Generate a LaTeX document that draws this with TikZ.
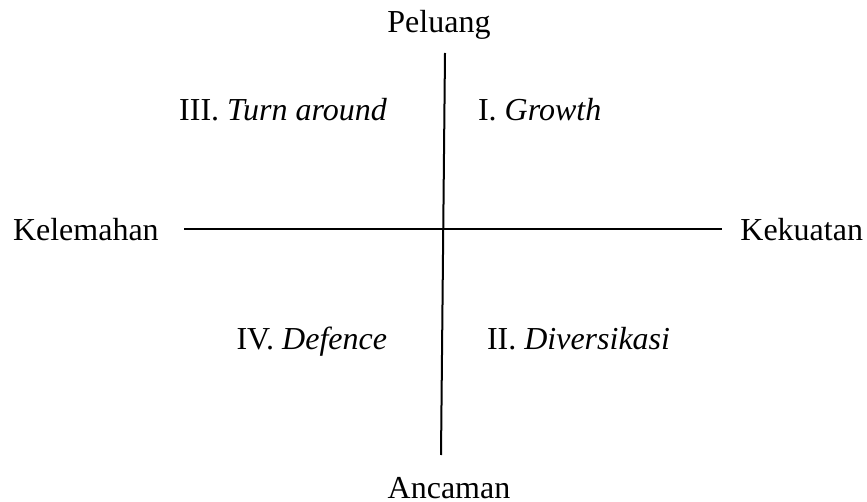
\documentclass[tikz,border=0pt]{standalone}
\usepackage{fontspec}
\setmainfont{Liberation Serif}
\begin{document}
\begin{tikzpicture}[x=0.5pt,y=-0.5pt,
  lbl/.style={inner sep=0pt,outer sep=0pt,font=\fontsize{16}{19}\selectfont},
  axis/.style={line width=1pt,black}]
\useasboundingbox (0,0) rectangle (867,502);
\node[lbl,anchor=base] (pel) at (439,33) {Peluang};
\node[lbl,anchor=base] (anc) at (449,498) {Ancaman};
\node[lbl,anchor=base west] (kel) at (13,241) {Kelemahan};
\node[lbl,anchor=base east] (kek) at (863,241) {Kekuatan};
\node[lbl,anchor=base east] (q3) at (387,121) {III. \textit{Turn around}};
\node[lbl,anchor=base west] (q1) at (478,121) {I. \textit{Growth}};
\node[lbl,anchor=base east] (q4) at (387,349) {IV. \textit{Defence}};
\node[lbl,anchor=base west] (q2) at (487,349) {II. \textit{Diversikasi}};
\coordinate (vt) at (445,53);
\coordinate (vb) at (441,455);
\coordinate (hl) at (184,229);
\coordinate (hr) at (722,229);
\draw[axis] (vt) -- (vb);
\draw[axis] (hl) -- (hr);
\end{tikzpicture}
\end{document}
